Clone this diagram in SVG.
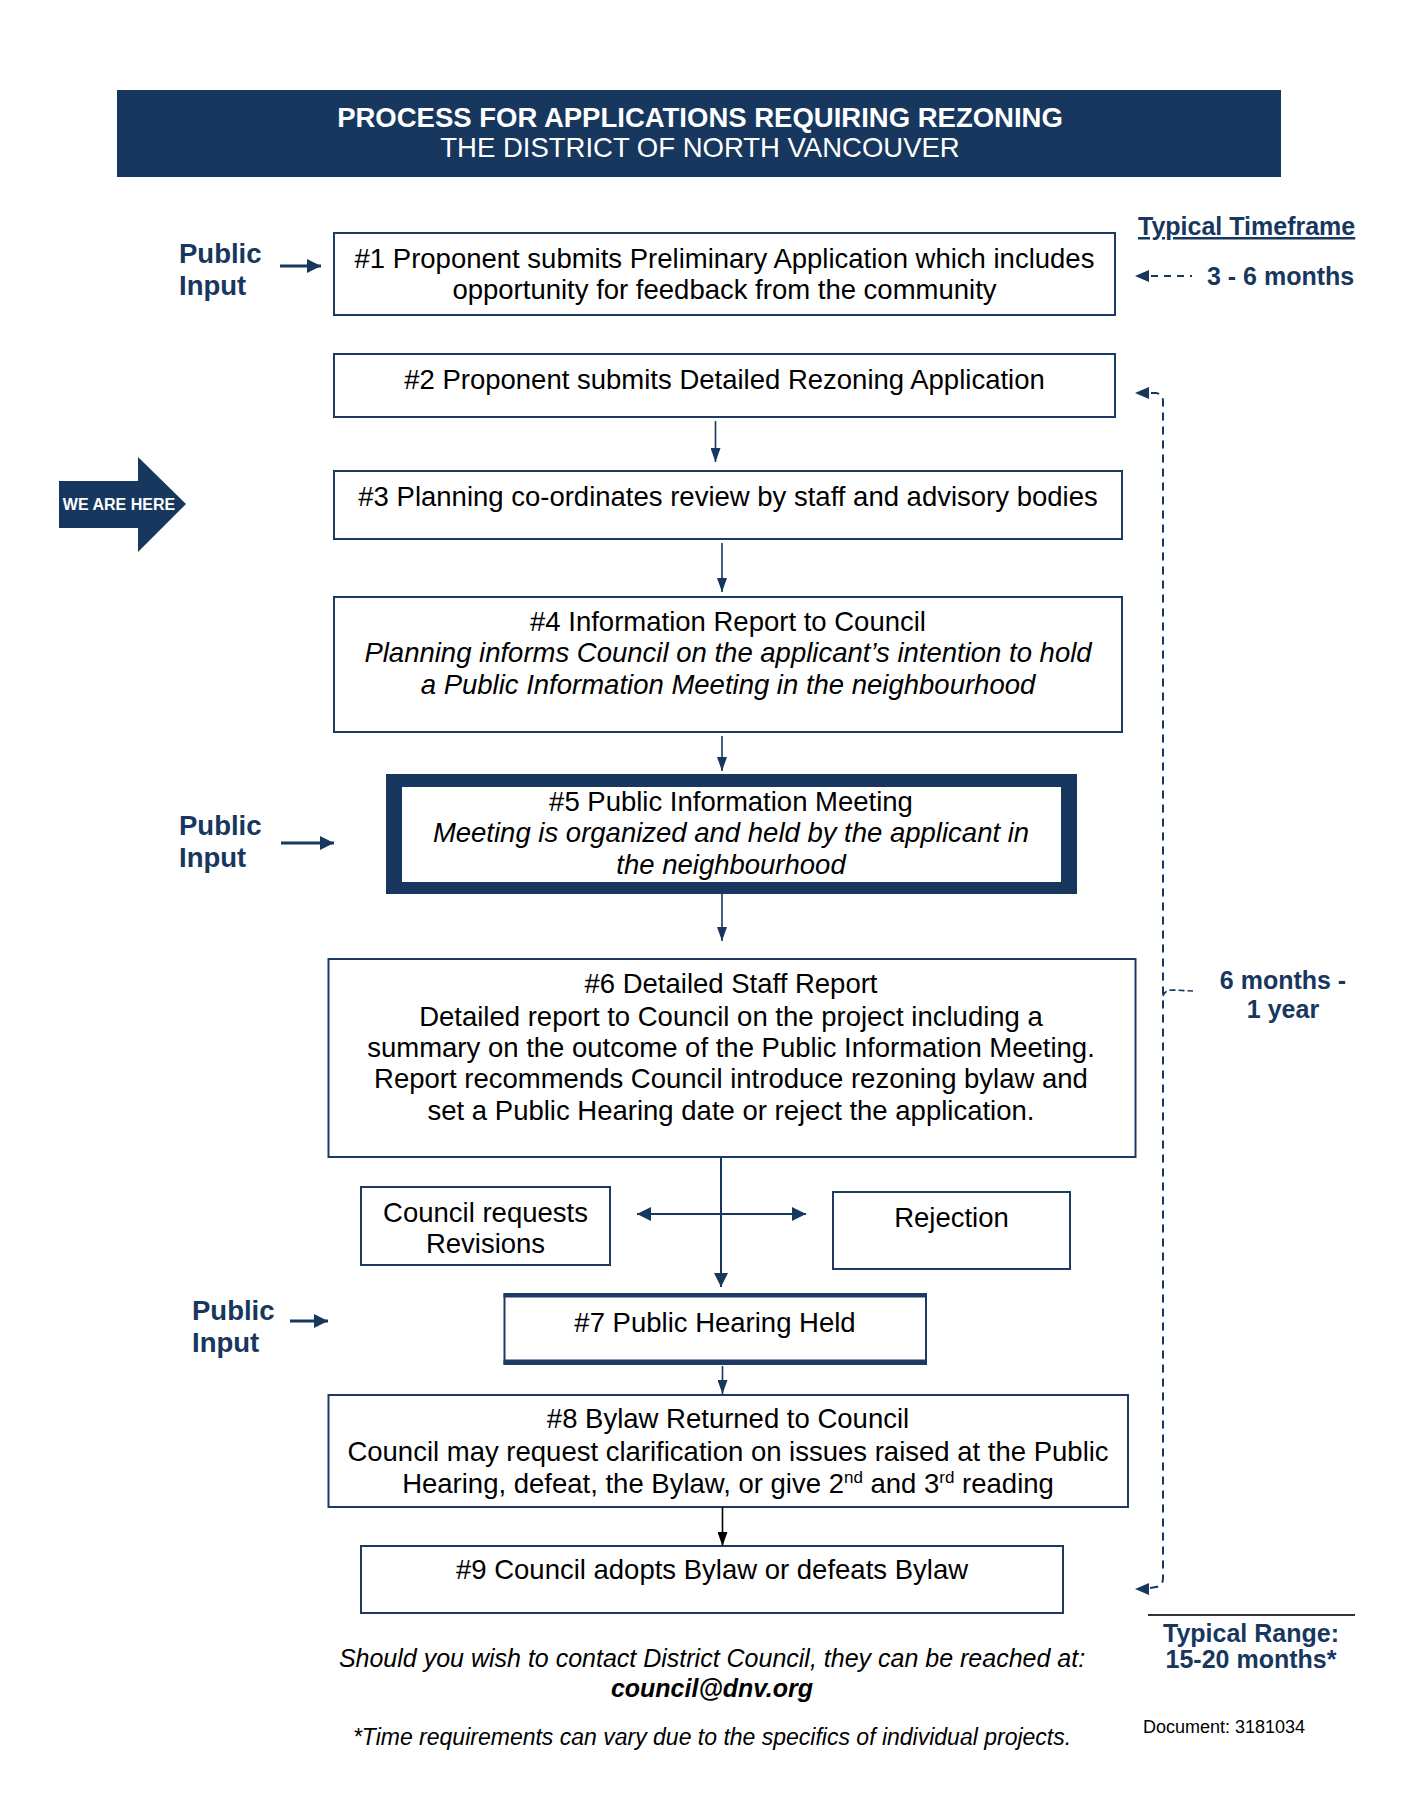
<svg xmlns="http://www.w3.org/2000/svg" width="1406" height="1819" viewBox="0 0 1406 1819">
<style>
.bx{fill:#fff;stroke:#1d3a62;stroke-width:2}
.t{font-family:"Liberation Sans",Arial,sans-serif;font-size:27.5px;fill:#000;text-anchor:middle}
.i{font-style:italic}
.lab{font-family:"Liberation Sans",Arial,sans-serif;font-weight:bold;fill:#17375e}
.cn{stroke:#17375e;stroke-width:1.6;fill:none}
.dash{stroke:#17375e;stroke-width:2;fill:none;stroke-dasharray:8 6}
</style>
<defs>
<marker id="ah" viewBox="0 0 14 10" refX="14" refY="5" markerWidth="14" markerHeight="10" markerUnits="userSpaceOnUse" orient="auto">
<path d="M0,0 L14,5 L0,10 z" fill="#17375e"/>
</marker>
<marker id="ahk" viewBox="0 0 14 10" refX="14" refY="5" markerWidth="14" markerHeight="10" markerUnits="userSpaceOnUse" orient="auto">
<path d="M0,0 L14,5 L0,10 z" fill="#000"/>
</marker>
<marker id="ahb" viewBox="0 0 14 14" refX="14" refY="7" markerWidth="14" markerHeight="14" markerUnits="userSpaceOnUse" orient="auto">
<path d="M0,0 L14,7 L0,14 z" fill="#17375e"/>
</marker>
<marker id="ahs" viewBox="0 0 14 14" refX="14" refY="7" markerWidth="14" markerHeight="14" markerUnits="userSpaceOnUse" orient="auto-start-reverse">
<path d="M0,0 L14,7 L0,14 z" fill="#17375e"/>
</marker>
</defs>
<rect width="1406" height="1819" fill="#fff"/>

<g id="header">
<rect x="117" y="90" width="1164" height="87" fill="#17375e"/>
<text x="700" y="127" class="t" style="fill:#fff;font-weight:bold">PROCESS FOR APPLICATIONS REQUIRING REZONING</text>
<text x="700" y="157" class="t" style="fill:#fff">THE DISTRICT OF NORTH VANCOUVER</text>
</g>

<g id="timeframe-labels">
<text x="1138" y="235" class="lab" font-size="25" text-decoration="underline">Typical Timeframe</text>
<text x="1207" y="285" class="lab" font-size="25">3 - 6 months</text>
<text x="1283" y="989" class="lab" font-size="25" text-anchor="middle">6 months -</text>
<text x="1283" y="1018" class="lab" font-size="25" text-anchor="middle">1 year</text>
<line x1="1148" y1="1615" x2="1355" y2="1615" stroke="#333" stroke-width="2"/>
<text x="1251" y="1642" class="lab" font-size="25" text-anchor="middle">Typical Range:</text>
<text x="1251" y="1668" class="lab" font-size="25" text-anchor="middle">15-20 months*</text>
</g>

<g id="public-input-1">
<text x="179" y="263" class="lab" font-size="27.5">Public</text>
<text x="179" y="295" class="lab" font-size="27.5">Input</text>
</g>
<g id="public-input-2">
<text x="179" y="835" class="lab" font-size="27.5">Public</text>
<text x="179" y="867" class="lab" font-size="27.5">Input</text>
</g>
<g id="public-input-3">
<text x="192" y="1320" class="lab" font-size="27.5">Public</text>
<text x="192" y="1352" class="lab" font-size="27.5">Input</text>
</g>

<g id="we-are-here">
<polygon points="59,481 138,481 138,457 186,504 138,552 138,528 59,528" fill="#17375e"/>
<text x="119" y="510" font-family="Liberation Sans, Arial, sans-serif" font-weight="bold" font-size="16" fill="#fff" text-anchor="middle">WE ARE HERE</text>
</g>

<g id="step1">
<rect class="bx" x="334" y="233" width="781" height="82"/>
<text x="724.5" y="268" class="t">#1 Proponent submits Preliminary Application which includes</text>
<text x="724.5" y="299" class="t">opportunity for feedback from the community</text>
</g>
<g id="step2">
<rect class="bx" x="334" y="354" width="781" height="63"/>
<text x="724.5" y="389" class="t">#2 Proponent submits Detailed Rezoning Application</text>
</g>
<g id="step3">
<rect class="bx" x="334" y="471" width="788" height="68"/>
<text x="728" y="506" class="t">#3 Planning co-ordinates review by staff and advisory bodies</text>
</g>
<g id="step4">
<rect class="bx" x="334" y="597" width="788" height="135"/>
<text x="728" y="631" class="t">#4 Information Report to Council</text>
<text x="728" y="662" class="t i">Planning informs Council on the applicant’s intention to hold</text>
<text x="728" y="694" class="t i">a Public Information Meeting in the neighbourhood</text>
</g>
<g id="step5">
<rect x="386" y="774" width="691" height="120" fill="#17375e"/>
<rect x="402" y="787" width="659" height="95" fill="#fff"/>
<text x="731" y="811" class="t">#5 Public Information Meeting</text>
<text x="731" y="842" class="t i">Meeting is organized and held by the applicant in</text>
<text x="731" y="874" class="t i">the neighbourhood</text>
</g>
<g id="step6">
<rect class="bx" x="328.5" y="959" width="807" height="198"/>
<text x="731" y="993" class="t">#6 Detailed Staff Report</text>
<text x="731" y="1026" class="t">Detailed report to Council on the project including a</text>
<text x="731" y="1057" class="t">summary on the outcome of the Public Information Meeting.</text>
<text x="731" y="1088" class="t">Report recommends Council introduce rezoning bylaw and</text>
<text x="731" y="1120" class="t">set a Public Hearing date or reject the application.</text>
</g>
<g id="council-revisions">
<rect class="bx" x="361" y="1187" width="249" height="78"/>
<text x="485.5" y="1222" class="t">Council requests</text>
<text x="485.5" y="1253" class="t">Revisions</text>
</g>
<g id="rejection">
<rect class="bx" x="833" y="1192" width="237" height="77"/>
<text x="951.5" y="1227" class="t">Rejection</text>
</g>
<g id="step7">
<rect class="bx" x="504.5" y="1294" width="421.5" height="70"/>
<line x1="503.5" y1="1295.5" x2="927" y2="1295.5" stroke="#1d3a62" stroke-width="4"/>
<line x1="503.5" y1="1362" x2="927" y2="1362" stroke="#1d3a62" stroke-width="5"/>
<text x="715" y="1332" class="t">#7 Public Hearing Held</text>
</g>
<g id="step8">
<rect class="bx" x="328.5" y="1395" width="799.5" height="112"/>
<text x="728" y="1428" class="t">#8 Bylaw Returned to Council</text>
<text x="728" y="1461" class="t">Council may request clarification on issues raised at the Public</text>
<text x="728" y="1493" class="t">Hearing, defeat, the Bylaw, or give 2<tspan font-size="17" dy="-10">nd</tspan><tspan dy="10"> and 3</tspan><tspan font-size="17" dy="-10">rd</tspan><tspan dy="10"> reading</tspan></text>
</g>
<g id="step9">
<rect class="bx" x="361" y="1546" width="702" height="67"/>
<text x="712" y="1579" class="t">#9 Council adopts Bylaw or defeats Bylaw</text>
</g>

<g id="footer">
<text x="712" y="1667" class="t i" font-size="25" style="font-size:25px">Should you wish to contact District Council, they can be reached at:</text>
<text x="712" y="1697" class="t i" style="font-size:25px;font-weight:bold">council@dnv.org</text>
<text x="712" y="1745" class="t i" style="font-size:23px">*Time requirements can vary due to the specifics of individual projects.</text>
<text x="1143" y="1733" font-family="Liberation Sans, Arial, sans-serif" font-size="18" fill="#000">Document: 3181034</text>
</g>

<g id="connectors">
<line class="cn" x1="280" y1="266" x2="321" y2="266" style="stroke-width:3" marker-end="url(#ahb)"/>
<line class="cn" x1="281" y1="843" x2="334" y2="843" style="stroke-width:3" marker-end="url(#ahb)"/>
<line class="cn" x1="290" y1="1321" x2="328" y2="1321" style="stroke-width:3" marker-end="url(#ahb)"/>
<line class="cn" x1="715.5" y1="421" x2="715.5" y2="462" marker-end="url(#ah)"/>
<line class="cn" x1="722" y1="543" x2="722" y2="592" marker-end="url(#ah)"/>
<line class="cn" x1="722" y1="736" x2="722" y2="771" marker-end="url(#ah)"/>
<line class="cn" x1="722" y1="894" x2="722" y2="941" marker-end="url(#ah)"/>
<line class="cn" x1="721" y1="1157" x2="721" y2="1287" style="stroke-width:2" marker-end="url(#ahb)"/>
<line class="cn" x1="637" y1="1214" x2="806" y2="1214" style="stroke-width:2" marker-start="url(#ahs)" marker-end="url(#ahs)"/>
<line class="cn" x1="722.5" y1="1366" x2="722.5" y2="1394" marker-end="url(#ah)"/>
<line x1="722.5" y1="1507" x2="722.5" y2="1546" stroke="#000" stroke-width="1.6" marker-end="url(#ahk)"/>
<polygon points="1135,276 1149,270 1149,282" fill="#17375e"/>
<line class="dash" x1="1151" y1="276" x2="1192" y2="276" style="stroke-dasharray:7 6"/>
<polygon points="1135,393 1149,387 1149,399" fill="#17375e"/>
<path class="dash" d="M1151,393 L1156,393 Q1163,394 1163,401 L1163,1578 Q1163,1586 1156,1587 L1150,1588"/>
<polygon points="1135,1589 1149,1583 1149,1595" fill="#17375e"/>
<path class="dash" d="M1163,996 Q1165,990 1172,990 L1193,991" style="stroke-dasharray:6 3;stroke-width:1.6"/>
</g>
</svg>
